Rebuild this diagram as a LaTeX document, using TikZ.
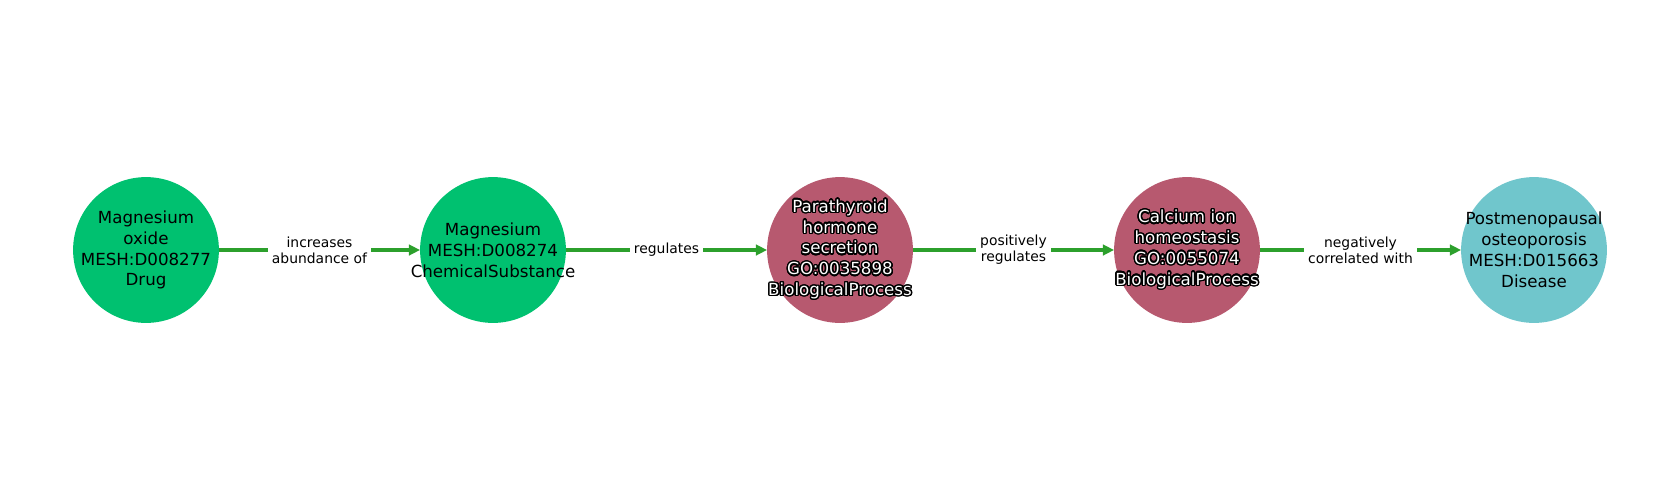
\documentclass[tikz,border=0pt]{standalone}
\usepackage{fontspec}
\setmainfont{DejaVu Sans}
\usepackage{contour}
\contourlength{1pt}
\contournumber{24}
\usetikzlibrary{arrows.meta}
\definecolor{cgreen}{HTML}{00C170}
\definecolor{cpink}{HTML}{B7596F}
\definecolor{cteal}{HTML}{70C6CC}
\definecolor{egreen}{HTML}{2CA02C}
\newcommand{\wc}[1]{\contour{black}{#1}}
\tikzset{
  ent/.style={circle, minimum size=105pt, inner sep=0pt, outer sep=0pt},
  gnode/.style={ent, fill=cgreen},
  pnode/.style={ent, fill=cpink},
  tnode/.style={ent, fill=cteal},
  txt/.style={inner sep=0pt, align=center, font=\fontsize{12}{15}\selectfont},
  wtxt/.style={txt, text=white},
  edge/.style={draw=egreen, line width=2.9pt, -{Triangle[length=8pt,width=7.5pt]}},
  lbl/.style={fill=white, inner sep=3pt, align=center, font=\fontsize{10}{11.5}\selectfont, text=black}
}
\begin{document}
\begin{tikzpicture}[x=0.72pt,y=-0.72pt]
\useasboundingbox (0,0) rectangle (1680,500);
\node[gnode] (n1) at (146,250) {};
\node[gnode] (n2) at (493,250) {};
\node[pnode] (n3) at (840,250) {};
\node[pnode] (n4) at (1187,250) {};
\node[tnode] (n5) at (1534,250) {};
\node[txt] (t1) at (n1) {Magnesium\\oxide\\MESH:D008277\\Drug};
\node[txt] (t2) at (n2) {Magnesium\\MESH:D008274\\ChemicalSubstance};
\node[wtxt] (t3) at (n3) {\wc{Parathyroid}\\\wc{hormone}\\\wc{secretion}\\\wc{GO:0035898}\\\wc{BiologicalProcess}};
\node[wtxt] (t4) at (n4) {\wc{Calcium ion}\\\wc{homeostasis}\\\wc{GO:0055074}\\\wc{BiologicalProcess}};
\node[txt] (t5) at (n5) {Postmenopausal\\osteoporosis\\MESH:D015663\\Disease};
\draw[edge] (n1) -- node[lbl] {increases\\abundance of} (n2);
\draw[edge] (n2) -- node[lbl] {regulates} (n3);
\draw[edge] (n3) -- node[lbl] {positively\\regulates} (n4);
\draw[edge] (n4) -- node[lbl] {negatively\\correlated with} (n5);
\end{tikzpicture}
\end{document}
